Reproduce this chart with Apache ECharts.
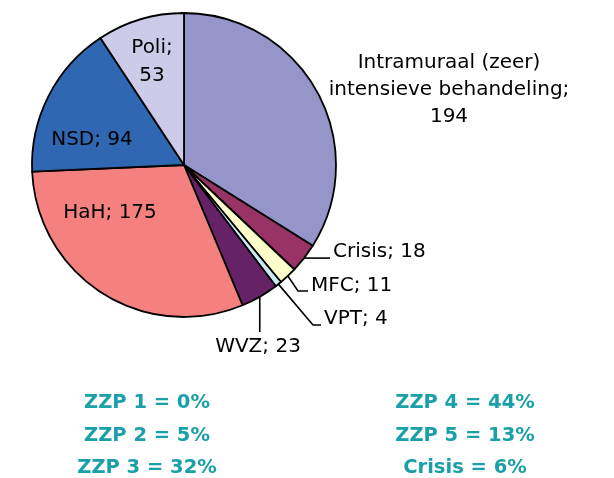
<!DOCTYPE html>
<html>
<head>
<meta charset="utf-8">
<script src="https://cdn.jsdelivr.net/npm/echarts@6/dist/echarts.min.js"></script>
<style>html,body{margin:0;padding:0;background:#fff;}#c{width:614px;height:478px;}</style>
</head>
<body>
<div id="c"></div>
<script>
const categories = ['Intramuraal (zeer)\nintensieve behandeling;', 'Crisis;', 'MFC;', 'VPT;', 'WVZ;', 'HaH;', 'NSD;', 'Poli;'];
const values = [194, 18, 11, 4, 23, 175, 94, 53];
const sliceColors = ['#9595c9', '#993366', '#ffffcc', '#cceaf2', '#662266', '#f48080', '#2f67b2', '#cdcce8'];
const labelSep = ['\n', ' ', ' ', ' ', ' ', ' ', ' ', '\n'];
const zzpLeft = ['ZZP 1 = 0%', 'ZZP 2 = 5%', 'ZZP 3 = 32%'];
const zzpRight = ['ZZP 4 = 44%', 'ZZP 5 = 13%', 'Crisis = 6%'];

const FONT = 'DejaVu Sans';
// label anchor layout (pixel positions of label text)
const labelPlace = [
  {x: 449, y: 90, align: 'center'},
  {x: 333, y: 252, align: 'left'},
  {x: 311, y: 286, align: 'left'},
  {x: 324, y: 319, align: 'left'},
  {x: 258, y: 347, align: 'center'},
  {x: 110, y: 213, align: 'center'},
  {x: 92, y: 140, align: 'center'},
  {x: 152, y: 62, align: 'center'}
];
function linePts(i, p0) {
  if (!p0) return undefined;
  const [x, y] = p0;
  if (i === 1) return [[x, y], [x + 2, y], [330, y]];
  if (i === 2) return [[x, y], [298, 291], [308, 291]];
  if (i === 3) return [[x, y], [313, 325], [321, 325]];
  if (i === 4) return [[x, y], [x, 332], [x, 332]];
  return undefined;
}
const outsideIdx = [1, 2, 3, 4];
const data = categories.map((c, i) => {
  const d = {
    name: c,
    value: values[i],
    itemStyle: {color: sliceColors[i]},
    label: {formatter: c + labelSep[i] + values[i]},
    labelLine: {show: outsideIdx.indexOf(i) >= 0}
  };
  if (i === 0) d.label.lineHeight = 27;
  if (i === 7) d.label.lineHeight = 28;
  return d;
});

const chart = echarts.init(document.getElementById('c'), null, {renderer: 'canvas'});
const gText = [];
zzpLeft.forEach((t, i) => gText.push({type: 'text', x: 147, y: 403 + i * 32.5, style: {text: t, fill: '#1aa0a8', font: 'bold 19.5px "' + FONT + '"', textAlign: 'center', textVerticalAlign: 'middle'}}));
zzpRight.forEach((t, i) => gText.push({type: 'text', x: 465, y: 403 + i * 32.5, style: {text: t, fill: '#1aa0a8', font: 'bold 19.5px "' + FONT + '"', textAlign: 'center', textVerticalAlign: 'middle'}}));

chart.setOption({
  backgroundColor: '#ffffff',
  animation: false,
  series: [{
    type: 'pie',
    center: [184, 165],
    radius: [0, 152],
    startAngle: 90,
    clockwise: true,
    avoidLabelOverlap: false,
    itemStyle: {borderColor: '#000', borderWidth: 1.8},
    label: {show: true, position: 'outside', color: '#000', fontFamily: FONT, fontSize: 20, lineHeight: 24},
    labelLine: {length: 10, length2: 10, lineStyle: {color: '#000', width: 1.6}},
    labelLayout: function (params) {
      const i = params.dataIndex;
      const p = labelPlace[i];
      const out = {x: p.x, y: p.y, align: p.align, verticalAlign: 'middle'};
      const pts = linePts(i, params.labelLinePoints && params.labelLinePoints[0]);
      if (pts) out.labelLinePoints = pts;
      return out;
    },
    data: data
  }],
  graphic: gText
});
</script>
</body>
</html>
